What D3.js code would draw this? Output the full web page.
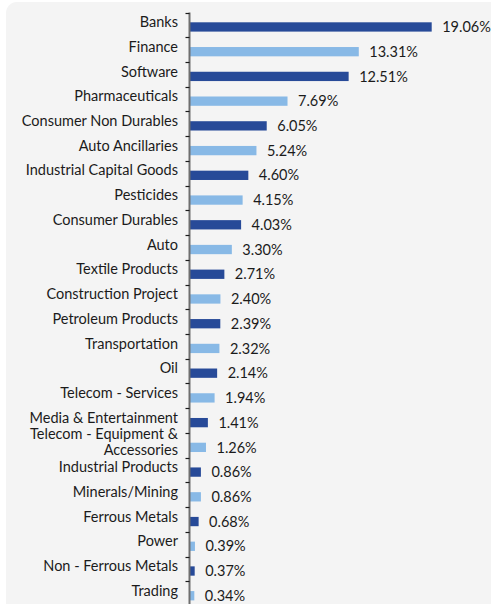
<!DOCTYPE html>
<html>
<head>
<meta charset="utf-8">
<script src="https://cdn.jsdelivr.net/npm/d3@7"></script>
<style>
  html, body { margin: 0; padding: 0; background: #ffffff; }
  svg { display: block; }
  text { font-family: "Lato", "Open Sans", sans-serif; fill: #1b1b1b; }
</style>
</head>
<body>
<svg id="chart" width="491" height="604"></svg>
<script>
// Sector allocation (% of net assets)
const sectors = [
  "Banks", "Finance", "Software", "Pharmaceuticals", "Consumer Non Durables",
  "Auto Ancillaries", "Industrial Capital Goods", "Pesticides", "Consumer Durables",
  "Auto", "Textile Products", "Construction Project", "Petroleum Products",
  "Transportation", "Oil", "Telecom - Services", "Media & Entertainment",
  "Telecom - Equipment &\nAccessories", "Industrial Products", "Minerals/Mining",
  "Ferrous Metals", "Power", "Non - Ferrous Metals", "Trading"
];
const weights = [
  19.06, 13.31, 12.51, 7.69, 6.05, 5.24, 4.60, 4.15, 4.03, 3.30, 2.71, 2.40,
  2.39, 2.32, 2.14, 1.94, 1.41, 1.26, 0.86, 0.86, 0.68, 0.39, 0.37, 0.34
];
const shades = ["#274a98", "#88b9e6"];

const W = 491, H = 604;
const svg = d3.select("#chart");

// rounded background panel
svg.append("rect")
  .attr("x", 6).attr("y", 2)
  .attr("width", W + 20).attr("height", H + 20)
  .attr("rx", 11).attr("ry", 11)
  .attr("fill", "#f4f4f4");

const axisX = 190;
const x = d3.scaleLinear().domain([0, 19.06]).range([axisX, 431.7]);
const y = d3.scaleBand().domain(sectors).range([12.5, 12.5 + 24.73 * sectors.length]);
const bw = y.bandwidth();

// bars
svg.append("g").selectAll("rect")
  .data(sectors)
  .join("rect")
  .attr("x", x(0))
  .attr("y", d => y(d) + 9.8)
  .attr("width", (d, i) => x(weights[i]) - x(0))
  .attr("height", 9.3)
  .attr("fill", (d, i) => shades[i % 2]);

// value labels
svg.append("g").selectAll("text")
  .data(sectors)
  .join("text")
  .attr("x", (d, i) => x(weights[i]) + 10.5)
  .attr("y", d => y(d) + 19.6)
  .attr("font-size", 14.5)
  .text((d, i) => weights[i].toFixed(2) + "%");

// category axis
const axis = svg.append("g").attr("transform", `translate(${axisX - 0.5},0)`);
axis.append("line")
  .attr("x1", 0).attr("x2", 0)
  .attr("y1", y.range()[0]).attr("y2", H)
  .attr("stroke", "#6f6f6f").attr("stroke-width", 2);
axis.selectAll("line.tick")
  .data(sectors)
  .join("line")
  .attr("class", "tick")
  .attr("x1", -4).attr("x2", 0)
  .attr("y1", d => Math.round(y(d)) + 0.5).attr("y2", d => Math.round(y(d)) + 0.5)
  .attr("stroke", "#1b1b1b").attr("stroke-width", 1.2);

// category labels (multi-line where needed)
const labels = svg.append("g").selectAll("text")
  .data(sectors)
  .join("text")
  .attr("text-anchor", "end")
  .attr("font-size", 14.5)
  .attr("x", 178)
  .attr("y", d => {
    const lines = d.split("\n").length;
    return y(d) + bw / 2 + (lines > 1 ? -5.8 : 2.2);
  });
labels.each(function(d) {
  const t = d3.select(this);
  d.split("\n").forEach((line, k) => {
    t.append("tspan")
      .attr("x", 178)
      .attr("dy", k === 0 ? 0 : 16)
      .text(line);
  });
});
</script>
</body>
</html>
